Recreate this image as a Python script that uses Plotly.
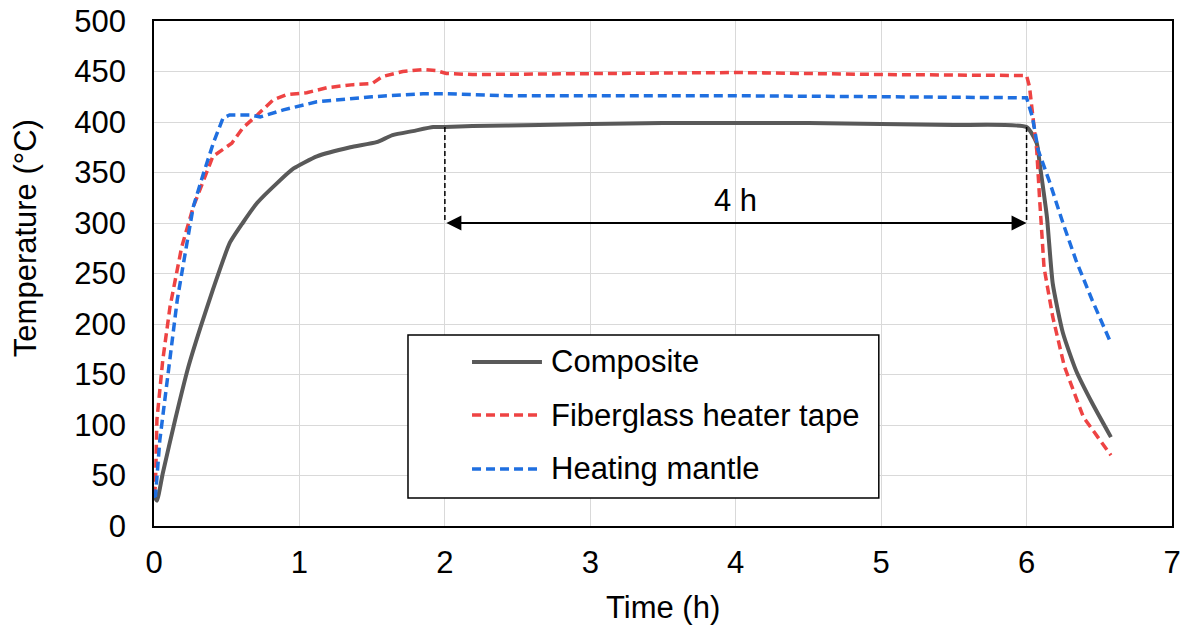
import plotly.graph_objects as go

# ---------------- data ----------------
comp_t = [0, 0.02, 0.06, 0.145, 0.235, 0.32, 0.405, 0.52, 0.61, 0.71, 0.85, 0.96, 1.12,
          1.35, 1.53, 1.64, 1.78, 1.92, 2.0, 2.19, 2.65, 3.0, 3.5, 4.0, 4.5, 5.0, 5.5, 6.0,
          6.07, 6.09, 6.14, 6.18, 6.25, 6.34, 6.45, 6.58]
comp_T = [30, 25, 52, 105, 157, 197, 234, 280, 300, 320, 340, 354, 366,
          375, 380, 387, 391, 395, 395, 396, 397, 398, 399, 399, 399, 398, 397, 395,
          379, 359, 306, 240, 191, 154, 122, 88]

fib_t = [0, 0.01, 0.02, 0.06, 0.11, 0.19, 0.27, 0.34, 0.405, 0.535, 0.61, 0.71, 0.82,
         0.91, 1.05, 1.19, 1.37, 1.5, 1.57, 1.71, 1.85, 1.94, 2.01, 2.19, 3.0, 4.0, 5.0, 6.0,
         6.02, 6.07, 6.09, 6.12, 6.18, 6.26, 6.39, 6.58]
fib_T = [30, 40, 105, 164, 217, 276, 316, 343, 366, 379, 394, 407, 422,
         427, 429, 434, 437, 438, 445, 450, 452, 451, 448, 447, 448, 449, 447, 446,
         435, 372, 323, 256, 207, 158, 108, 70]

mant_t = [0, 0.01, 0.04, 0.1, 0.16, 0.23, 0.27, 0.34, 0.41, 0.475, 0.52, 0.66, 0.73, 0.89,
          1.12, 1.5, 1.85, 2.01, 2.43, 3.0, 4.0, 5.0, 6.0, 6.04, 6.08, 6.16, 6.25, 6.34, 6.45, 6.58]
mant_T = [30, 29, 85, 157, 224, 283, 316, 349, 380, 404, 407, 407, 405, 412,
          420, 425, 428, 428, 426, 426, 426, 425, 424, 405, 372, 340, 300, 263, 224, 181]

series_names = ["Composite", "Fiberglass heater tape", "Heating mantle"]
colors = ["#595959", "#EE4343", "#1F6FE0"]
dashes = ["solid", "9px,5px", "9px,5px"]
widths = [4, 3.5, 3.5]
shapes_ = ["spline", "linear", "linear"]

hold_start, hold_end, hold_level = 2, 6, 300
hold_top = [395, 395]
hold_label = "4 h"

x_ticks = [0, 1, 2, 3, 4, 5, 6, 7]
y_ticks = [0, 50, 100, 150, 200, 250, 300, 350, 400, 450, 500]

FONT = "Liberation Sans, Arial, sans-serif"
FS = 31

fig = go.Figure()
for t, T, name, c, d, w, sh in zip([comp_t, fib_t, mant_t], [comp_T, fib_T, mant_T],
                                   series_names, colors, dashes, widths, shapes_):
    fig.add_trace(go.Scatter(x=t, y=T, mode="lines", name=name,
                             line=dict(color=c, width=w, dash=d, shape=sh, smoothing=0.5),
                             showlegend=False))

# dashed vertical markers for the hold period
for xv, top in zip([hold_start, hold_end], hold_top):
    fig.add_shape(type="line", xref="x", yref="y", x0=xv, x1=xv, y0=top, y1=hold_level,
                  line=dict(color="black", width=1.5, dash="5px,3px"))

# double arrow
fig.add_annotation(x=hold_end, y=hold_level, ax=hold_start, ay=hold_level,
                   xref="x", yref="y", axref="x", ayref="y", text="",
                   showarrow=True, arrowhead=2, arrowside="end+start",
                   arrowsize=1.5, arrowwidth=2, arrowcolor="black", standoff=0, startstandoff=0)
fig.add_annotation(x=(hold_start + hold_end) / 2, y=322, xref="x", yref="y",
                   text=hold_label, showarrow=False,
                   font=dict(family=FONT, size=FS, color="black"))

# manual legend box
fig.add_shape(type="rect", xref="paper", yref="paper", x0=0.2495, x1=0.712, y0=0.0554, y1=0.378,
              line=dict(color="black", width=1.5), fillcolor="white", layer="above")
leg_y = [0.3248, 0.2198, 0.1129]
for name, c, d, w, yy in zip(series_names, colors, dashes, widths, leg_y):
    fig.add_shape(type="line", xref="paper", yref="paper", x0=0.3124, x1=0.3811, y0=yy, y1=yy,
                  line=dict(color=c, width=w, dash=d), layer="above")
    fig.add_annotation(x=0.388, y=yy, xref="paper", yref="paper", text=name, showarrow=False,
                       xanchor="left", yanchor="middle",
                       font=dict(family=FONT, size=FS, color="black"))

# axis titles placed like the reference
fig.add_annotation(x=-0.1267, y=0.570, xref="paper", yref="paper", text="Temperature (°C)",
                   textangle=-90, showarrow=False, xanchor="center", yanchor="middle",
                   font=dict(family=FONT, size=FS, color="black"))
fig.add_annotation(x=0.5, y=-0.1604, xref="paper", yref="paper", text="Time (h)",
                   showarrow=False, xanchor="center", yanchor="middle",
                   font=dict(family=FONT, size=FS, color="black"))

axis_common = dict(showgrid=True, gridcolor="#D9D9D9", gridwidth=1.3,
                   showline=True, linecolor="black", linewidth=1.5, mirror=True,
                   ticks="", zeroline=False, automargin=False,
                   tickfont=dict(family=FONT, size=FS, color="black"))

fig.update_layout(
    width=1188, height=626,
    margin=dict(l=154, r=16, t=21, b=100),
    paper_bgcolor="white", plot_bgcolor="white",
    showlegend=False,
    xaxis=dict(range=[0, 7], tickvals=x_ticks, ticklabelstandoff=8, **axis_common),
    yaxis=dict(range=[0, 500], tickvals=y_ticks, ticklabelstandoff=20, **axis_common),
)

fig.write_html("out.html")
